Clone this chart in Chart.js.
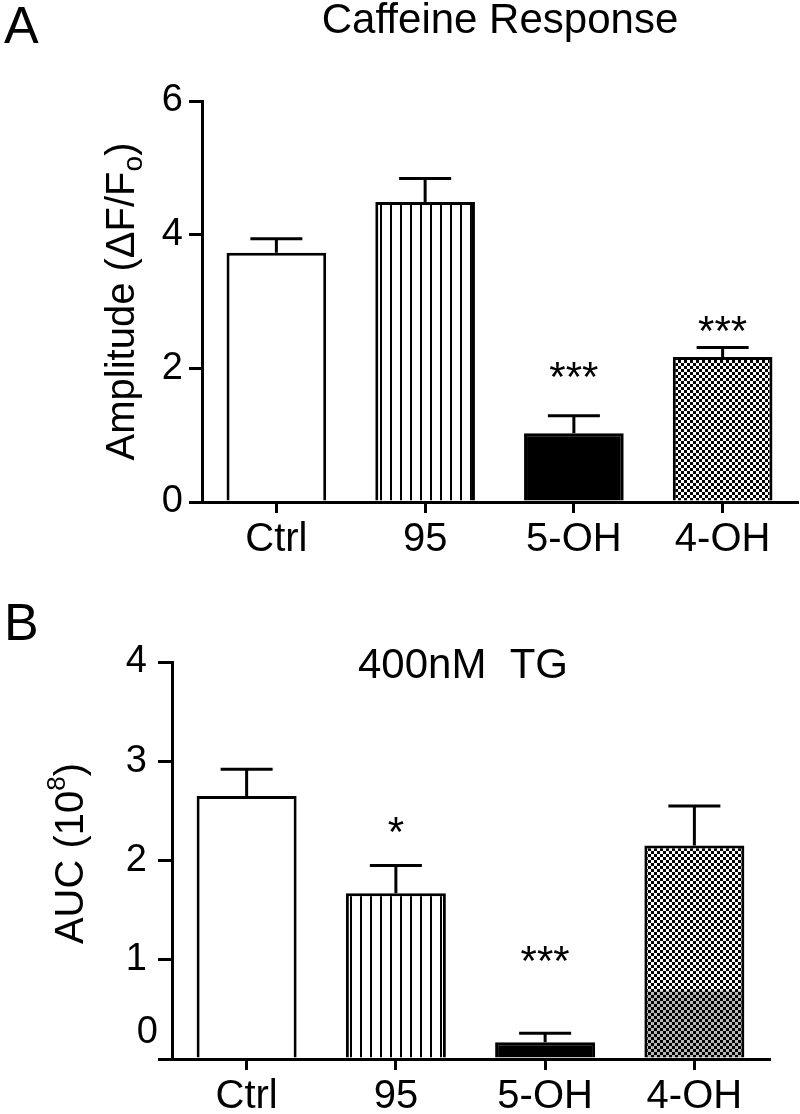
<!DOCTYPE html>
<html>
<head>
<meta charset="utf-8">
<script src="https://cdn.jsdelivr.net/npm/chart.js@4.4.1/dist/chart.umd.min.js"></script>
<style>
    body { margin: 0; background: #fff; width: 800px; height: 1114px; overflow: hidden; }
    .panel { position: absolute; left: 0; width: 800px; }
    #panelA { top: 0; height: 560px; }
    #panelB { top: 560px; height: 554px; }
</style>
</head>
<body>
<div class="panel" id="panelA"><canvas id="chartA"></canvas></div>
<div class="panel" id="panelB"><canvas id="chartB"></canvas></div>
<script>
const categories = ['Ctrl', '95', '5-OH', '4-OH'];

// Panel A - caffeine response amplitude (dF/Fo)
const ampMean = [3.73, 4.49, 1.03, 2.17];
const ampSem = [0.21, 0.35, 0.26, 0.14];
const ampStars = ['', '', '***', '***'];
const ampStarLevel = [0, 0, 2.02, 2.71];

// Panel B - 400nM TG, AUC (10^8)
const aucMean = [2.65, 1.67, 0.17, 2.15];
const aucSem = [0.27, 0.28, 0.09, 0.40];
const aucStars = ['', '*', '***', ''];
const aucStarLevel = [0, 2.39, 1.09, 0];

const FONT = '"Liberation Sans", Arial, sans-serif';

// hatch fills like the Prism bars
function verticalLines(ctx) {
    const c = document.createElement('canvas');
    c.width = 10; c.height = 10;
    const g = c.getContext('2d');
    g.fillStyle = '#fff'; g.fillRect(0, 0, 10, 10);
    g.fillStyle = '#000'; g.fillRect(0, 0, 2, 10);
    return ctx.createPattern(c, 'repeat');
}

function checker(ctx) {
    const c = document.createElement('canvas');
    c.width = 6; c.height = 6;
    const g = c.getContext('2d');
    g.fillStyle = '#fff'; g.fillRect(0, 0, 6, 6);
    g.fillStyle = '#000';
    g.fillRect(0, 0, 3, 3);
    g.fillRect(3, 3, 3, 3);
    return ctx.createPattern(c, 'repeat');
}

// error bars (upper only), stars, titles
const extras = {
    id: 'extras',
    afterDatasetsDraw(chart, args, o) {
        const ctx = chart.ctx;
        const y = chart.scales.y;
        const bars = chart.getDatasetMeta(0).data;
        ctx.save();

        // darker moire band at the foot of a bar (scan artefact in the original)
        if (o.band) {
            const b = bars[o.band.index];
            const top = y.getPixelForValue(o.band.level);
            ctx.fillStyle = 'rgba(0,0,0,0.28)';
            ctx.fillRect(b.x - b.width / 2 + 3, top, b.width - 6, b.base - top);
        }

        ctx.strokeStyle = '#000';
        ctx.lineWidth = 3;
        bars.forEach((bar, i) => {
            const top = y.getPixelForValue(o.mean[i] + o.sem[i]);
            ctx.beginPath();
            ctx.moveTo(bar.x, bar.y);
            ctx.lineTo(bar.x, top);
            ctx.moveTo(bar.x - 26, top);
            ctx.lineTo(bar.x + 26, top);
            ctx.stroke();
            if (o.stars[i]) {
                ctx.fillStyle = '#000';
                ctx.font = '42px ' + FONT;
                ctx.textAlign = 'center';
                ctx.textBaseline = 'alphabetic';
                ctx.fillText(o.stars[i], bar.x, y.getPixelForValue(o.starLevel[i]) + 24);
            }
        });
        ctx.restore();
    },
    afterDraw(chart, args, o) {
        const ctx = chart.ctx;
        ctx.save();
        ctx.fillStyle = '#000';
        ctx.textBaseline = 'alphabetic';

        ctx.font = '52px ' + FONT;
        ctx.textAlign = 'left';
        ctx.fillText(o.letter, 4, o.letterY);

        ctx.font = '42px ' + FONT;
        ctx.textAlign = 'center';
        ctx.fillText(o.title, o.titleX, o.titleY);

        // rotated y title with sub/superscript
        const parts = o.yTitle;
        let w = 0;
        parts.forEach(p => { ctx.font = p.size + 'px ' + FONT; w += ctx.measureText(p.t).width; });
        const yc = (chart.chartArea.top + chart.chartArea.bottom) / 2 + o.yTitleShift;
        ctx.translate(o.yTitleX, yc);
        ctx.rotate(-Math.PI / 2);
        ctx.textAlign = 'left';
        let x = -w / 2;
        parts.forEach(p => {
            ctx.font = p.size + 'px ' + FONT;
            ctx.fillText(p.t, x, p.dy || 0);
            x += ctx.measureText(p.t).width;
        });
        ctx.restore();

        // detached zero label in panel B
        if (o.zeroLabel) {
            ctx.save();
            ctx.font = '38px ' + FONT;
            ctx.textAlign = 'right';
            ctx.textBaseline = 'middle';
            ctx.fillStyle = '#000';
            ctx.fillText('0', o.zeroLabel.x, chart.scales.y.getPixelForValue(0) + o.zeroLabel.dy);
            ctx.restore();
        }
    }
};

function makeChart(id, mean, opts) {
    const ctx = document.getElementById(id).getContext('2d');
    const fills = ['#ffffff', verticalLines(ctx), '#000000', checker(ctx)];
    return new Chart(ctx, {
        type: 'bar',
        data: {
            labels: categories,
            datasets: [{
                data: mean,
                backgroundColor: fills,
                borderColor: '#000',
                borderWidth: 3,
                borderSkipped: 'start',
                categoryPercentage: 1,
                barPercentage: 0.67
            }]
        },
        options: {
            responsive: true,
            maintainAspectRatio: false,
            animation: false,
            layout: { padding: opts.padding },
            scales: {
                x: {
                    afterFit: s => { s.height = opts.xHeight; },
                    grid: { display: true, offset: false, drawOnChartArea: false, drawTicks: true, tickLength: 11, color: '#000', lineWidth: 3 },
                    border: { display: true, color: '#000', width: 3 },
                    ticks: { color: '#000', font: { family: FONT, size: 40 }, padding: 3, maxRotation: 0 }
                },
                y: {
                    min: 0,
                    max: opts.yMax,
                    afterFit: s => { s.width = opts.yWidth; },
                    grid: { display: true, drawOnChartArea: false, drawTicks: true, tickLength: opts.tickLen, color: '#000', lineWidth: 3 },
                    border: { display: true, color: '#000', width: 3 },
                    ticks: {
                        stepSize: opts.step,
                        color: '#000',
                        font: { family: FONT, size: 38 },
                        padding: opts.tickPad,
                        callback: opts.tickCb
                    }
                }
            },
            plugins: {
                legend: { display: false },
                tooltip: { enabled: false },
                extras: opts.extras
            }
        },
        plugins: [extras]
    });
}

makeChart('chartA', ampMean, {
    padding: { top: 101, right: 3, left: 0, bottom: 0 },
    xHeight: 58, yWidth: 202, yMax: 6, step: 2, tickLen: 13, tickPad: 6,
    tickCb: v => v,
    extras: {
        mean: ampMean, sem: ampSem, stars: ampStars, starLevel: ampStarLevel,
        letter: 'A', letterY: 43,
        title: 'Caffeine Response', titleX: 500, titleY: 33,
        yTitleX: 134, yTitleShift: 0,
        yTitle: [
            { t: 'Amplitude (\u0394F/F', size: 40 },
            { t: 'o', size: 28, dy: 8 },
            { t: ')', size: 40 }
        ]
    }
});

makeChart('chartB', aucMean, {
    padding: { top: 102, right: 31, left: 0, bottom: 0 },
    xHeight: 55, yWidth: 172, yMax: 4, step: 1, tickLen: 14, tickPad: 11,
    tickCb: v => (v === 0 ? '' : v),
    extras: {
        mean: aucMean, sem: aucSem, stars: aucStars, starLevel: aucStarLevel,
        letter: 'B', letterY: 80,
        title: '400nM  TG', titleX: 463, titleY: 118,
        yTitleX: 83, yTitleShift: -7,
        zeroLabel: { x: 158, dy: -26 },
        band: { index: 3, level: 0.69 },
        yTitle: [
            { t: 'AUC (10', size: 40 },
            { t: '8', size: 26, dy: -18 },
            { t: ')', size: 40 }
        ]
    }
});
</script>
</body>
</html>
